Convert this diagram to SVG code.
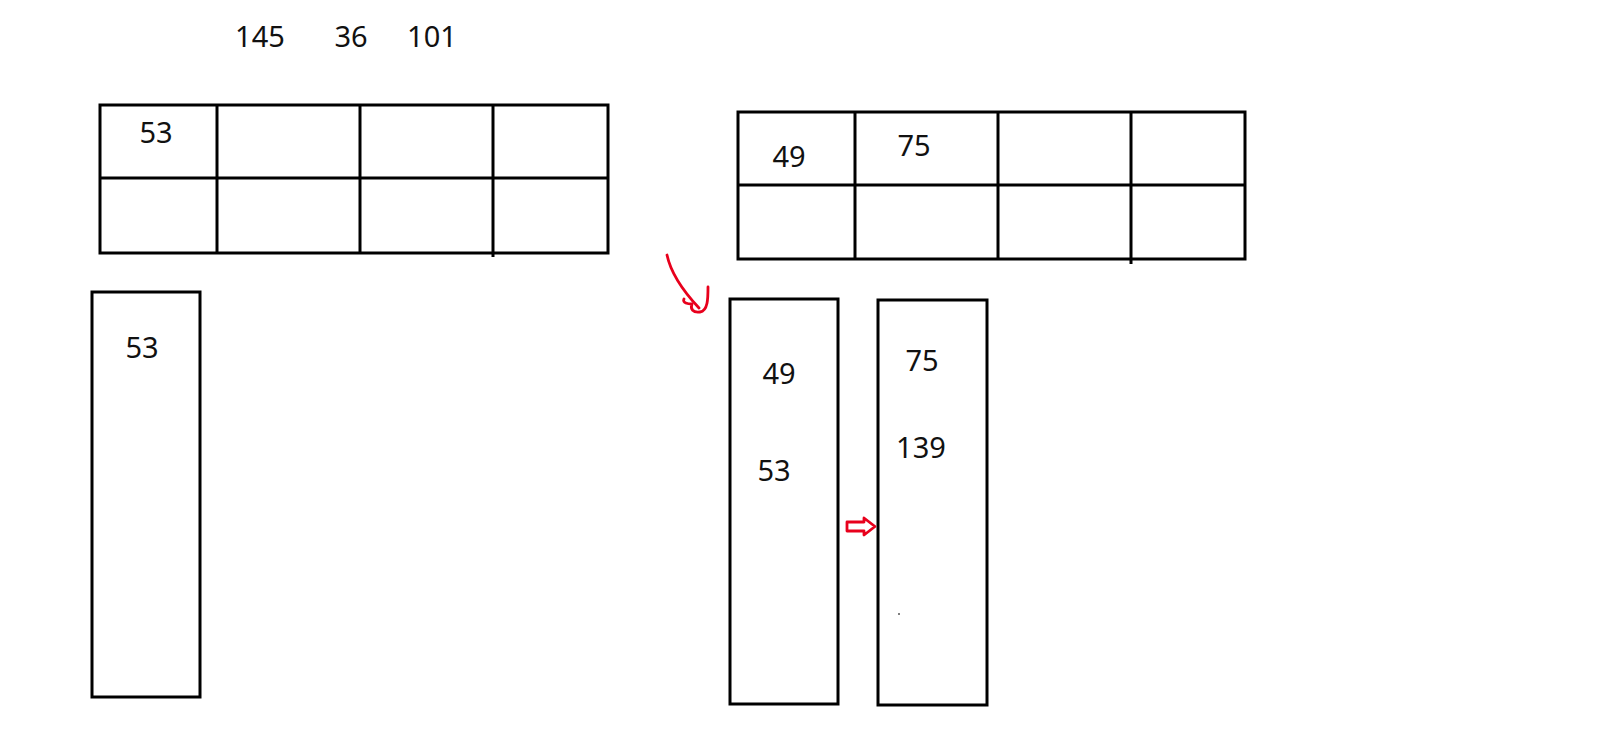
<svg xmlns="http://www.w3.org/2000/svg" width="1614" height="752" viewBox="0 0 1614 752">
<style>
.b{fill:none;stroke:#000;stroke-width:3}
.t{font-family:"Noto Sans","Open Sans",sans-serif;font-size:29px;fill:#111}
.r{fill:none;stroke:#e8001c;stroke-width:2.8;stroke-linecap:round;stroke-linejoin:round}
</style>
<rect width="1614" height="752" fill="#fff"/>
<g id="labels-top">
<text class="t" x="260" y="47" text-anchor="middle">145</text>
<text class="t" x="351" y="47" text-anchor="middle">36</text>
<text class="t" x="432" y="47" text-anchor="middle">101</text>
</g>
<g id="table-left">
<rect class="b" x="100" y="105" width="508" height="148"/>
<line class="b" x1="100" y1="178" x2="608" y2="178"/>
<line class="b" x1="217" y1="105" x2="217" y2="253"/>
<line class="b" x1="360" y1="105" x2="360" y2="253"/>
<line class="b" x1="493" y1="105" x2="493" y2="257"/>
<text class="t" x="156" y="143" text-anchor="middle">53</text>
</g>
<g id="table-right">
<rect class="b" x="738" y="112" width="507" height="147"/>
<line class="b" x1="738" y1="185" x2="1245" y2="185"/>
<line class="b" x1="855" y1="112" x2="855" y2="259"/>
<line class="b" x1="998" y1="112" x2="998" y2="259"/>
<line class="b" x1="1131" y1="112" x2="1131" y2="264"/>
<text class="t" x="789" y="167" text-anchor="middle">49</text>
<text class="t" x="914" y="156" text-anchor="middle">75</text>
</g>
<g id="bucket-left">
<rect class="b" x="92" y="292" width="108" height="405"/>
<text class="t" x="142" y="358" text-anchor="middle">53</text>
</g>
<g id="bucket-mid">
<rect class="b" x="730" y="299" width="108" height="405"/>
<text class="t" x="779" y="384" text-anchor="middle">49</text>
<text class="t" x="774" y="481" text-anchor="middle">53</text>
</g>
<g id="bucket-right">
<rect class="b" x="878" y="300" width="109" height="405"/>
<text class="t" x="922" y="371" text-anchor="middle">75</text>
<text class="t" x="921" y="458" text-anchor="middle">139</text>
<circle cx="899" cy="614" r="1" fill="#555"/>
</g>
<g id="connectors">
<path class="r" d="M667,255 C671,274 684,292 699,308"/>
<path class="r" d="M684,299 C682,303 688,304 692,304 C690,309 693,313 700,312 C708,311 708,298 708,287"/>
<path class="r" d="M847,522 L864,522 L864,518 L875,526.5 L864,535 L864,531 L847,531 Z"/>
</g>
</svg>
